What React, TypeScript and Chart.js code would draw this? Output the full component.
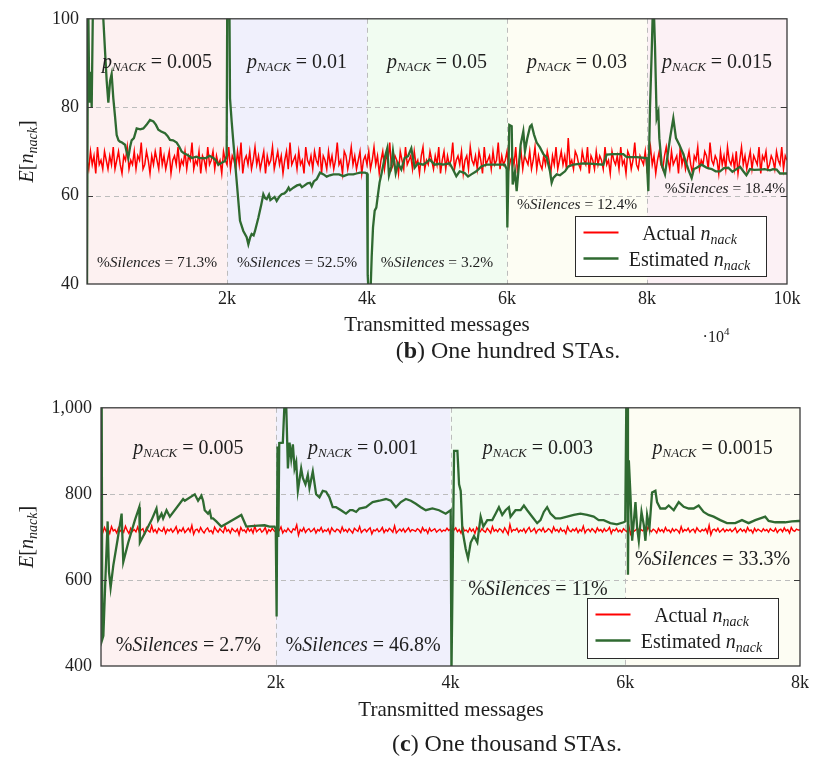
import React, { useEffect, useRef } from 'react';
import { Chart, registerables } from 'chart.js';

Chart.register(...registerables);

const SERIF = '"Liberation Serif", "Times New Roman", serif';
const RED = '#ff0000';
const GREEN = '#2f6a31';
const INK = '#1e1e1e';

// ================= (b) One hundred STAs =================
const hundredActual = [
  68, 66, 70, 67, 69, 65, 71, 67, 68, 66, 70, 68, 66, 69, 67, 71, 66, 68, 70, 67,
  65, 69, 68, 71, 66, 68, 67, 70, 66, 69, 68, 72, 66, 67, 70, 68, 65, 69, 67, 70,
  68, 66, 71, 67, 69, 66, 68, 70, 65, 68, 69, 67, 71, 66, 68, 67, 70, 66, 69, 68,
  72, 66, 68, 67, 70, 65, 69, 68, 66, 71, 67, 68, 70, 66, 69, 67, 68, 65, 70, 68,
  67, 71, 66, 69, 68, 66, 70, 67, 72, 65, 68, 69, 67, 70, 66, 68, 71, 67, 69, 66,
  68, 70, 65, 69, 67, 68, 71, 66, 68, 70, 67, 69, 65, 68, 70, 66, 72, 67, 68, 69,
  66, 70, 67, 68, 65, 71, 68, 67, 69, 66, 70, 68, 67, 71, 65, 69, 68, 66, 70, 67,
  69, 66, 68, 72, 67, 68, 65, 70, 69, 66, 68, 71, 67, 69, 66, 68, 70, 65, 68, 69,
  67, 70, 66, 68, 71, 67, 69, 65, 68, 70, 66, 69, 68, 72, 66, 67, 69, 68, 65, 70,
  68, 66, 71, 67, 68, 69, 66, 70, 67, 68, 65, 69, 71, 66, 68, 67, 70, 68, 66, 69,
  67, 71, 65, 68, 70, 66, 69, 67, 68, 72, 66, 68, 69, 67, 70, 65, 68, 69, 66, 71,
  68, 67, 69, 66, 70, 68, 65, 71, 67, 68, 69, 66, 70, 67, 68, 72, 66, 69, 67, 68,
  70, 66, 68, 69, 67, 71, 65, 68, 70, 66, 69, 68, 67, 70, 66, 68, 71, 66, 69, 67,
  66, 69, 67, 70, 68, 65, 69, 67, 71, 66, 68, 70, 67, 69, 66, 73, 67, 68, 66, 70,
  69, 67, 66, 70, 68, 67, 71, 65, 69, 68, 66, 70, 67, 69, 68, 66, 71, 67, 68, 65,
  70, 68, 67, 69, 66, 71, 67, 68, 65, 70, 69, 66, 68, 72, 67, 66, 69, 68, 67, 70,
  66, 68, 71, 67, 69, 65, 68, 70, 67, 66, 69, 71, 68, 66, 70, 67, 68, 69, 65, 71,
  67, 69, 66, 68, 70, 67, 65, 69, 68, 71, 66, 68, 67, 70, 69, 66, 72, 68, 67, 69,
  68, 65, 70, 67, 69, 66, 71, 68, 67, 69, 66, 70, 65, 68, 71, 67, 69, 66, 68, 70,
  66, 69, 68, 67, 71, 65, 69, 68, 70, 66, 67, 69, 68, 66, 70, 68, 67, 71, 66, 69,
  68,
];
const hundredEstimated: [number, number][] = [
  [0, 38], [15, 108], [33, 81], [50, 88], [67, 80], [90, 110], [150, 115], [233, 100], [260, 92], [281, 86],
  [305, 81], [330, 86], [352, 87.5], [376, 82], [400, 78], [424, 73.7], [450, 72.5], [471, 72.2], [500, 72], [543, 71.5],
  [565, 70], [590, 68.5], [615, 71], [638, 72.5], [670, 73], [710, 75.2], [760, 75], [805, 75.2], [850, 76], [900, 77.1],
  [948, 76.8], [985, 76], [1019, 74.9], [1060, 74.5], [1114, 74.1], [1150, 73.5], [1186, 72.6], [1230, 72.5], [1281, 72], [1320, 71],
  [1352, 70], [1390, 69.5], [1424, 69.3], [1500, 68.5], [1560, 68.8], [1614, 68.5], [1700, 68.5], [1750, 69], [1805, 68.5], [1840, 68],
  [1876, 67], [1930, 67.5], [1971, 67.8], [1995, 69],
  [2005, 110], [2030, 115], [2043, 82], [2067, 76.7], [2090, 72.2], [2138, 63.3], [2186, 54.3], [2233, 52], [2281, 50.6], [2305, 49],
  [2330, 50.5], [2352, 51.3], [2380, 51], [2400, 52], [2448, 55], [2490, 58], [2519, 60.3], [2545, 59.4], [2567, 59.2], [2600, 60.2],
  [2620, 59], [2638, 59.2], [2680, 59.7], [2710, 58.8], [2750, 59.8], [2781, 60.3], [2820, 60.5], [2852, 61], [2880, 61.8], [2900, 61.2],
  [2948, 61.8], [3000, 62.3], [3043, 62.5], [3070, 61.9], [3100, 62.2], [3150, 62.8], [3186, 62.9], [3210, 62.1], [3240, 63.2], [3281, 63.7],
  [3329, 65.2], [3380, 64.8], [3424, 64.3], [3470, 64.6], [3519, 64.8], [3600, 64.8], [3662, 64.4], [3730, 64.8], [3805, 64.8], [3850, 65],
  [3900, 65.2], [3971, 65.2],
  [4000, 65], [4010, 42], [4029, 36], [4050, 38], [4067, 46.1], [4086, 52.8], [4110, 56.6], [4133, 57.3], [4157, 60.3], [4180, 63],
  [4205, 64.8], [4252, 68.5], [4290, 70.7], [4314, 64.6], [4348, 66.6], [4371, 70], [4410, 65.1], [4443, 67.3], [4490, 65.9], [4538, 68.5],
  [4586, 68.9], [4633, 70.7], [4681, 66.3], [4729, 67.3], [4800, 67], [4850, 67.5], [4895, 68.2], [4967, 67], [5030, 67.2], [5086, 67],
  [5181, 67.3], [5229, 65.9], [5276, 64.4], [5324, 65.5], [5395, 65.1], [5443, 64.3], [5490, 64.8], [5562, 65.5], [5633, 66.6], [5705, 67],
  [5800, 67], [5895, 67], [5967, 67], [5995, 66],
  [6005, 52.8], [6033, 76], [6067, 75.7], [6081, 62.5], [6114, 65.4], [6138, 61], [6162, 65.4], [6195, 71.5], [6233, 74.5], [6257, 70],
  [6290, 73], [6329, 75.6], [6352, 76], [6386, 73.8], [6424, 72], [6471, 70.9], [6519, 69.4], [6567, 68.6], [6614, 65.5], [6638, 62.9],
  [6662, 64], [6710, 64.8], [6757, 64.6], [6829, 65.5], [6876, 66.6], [6948, 67], [7090, 67.3], [7233, 67.2], [7376, 67], [7424, 69.3],
  [7519, 69.4], [7662, 69.4], [7710, 68.7], [7852, 68.7], [7995, 68.5],
  [8019, 61], [8043, 80], [8067, 92.4], [8090, 106], [8114, 93.9], [8138, 77.5], [8162, 78.9], [8176, 73], [8210, 67], [8257, 64.8],
  [8290, 68.6], [8329, 73], [8376, 77.5], [8414, 73], [8462, 71.5], [8519, 69.4], [8567, 67], [8600, 65.5], [8638, 64], [8670, 66],
  [8710, 66.3], [8781, 67], [8852, 66.3], [8924, 66], [8980, 65.5], [9043, 65.5], [9100, 66.2], [9162, 66.3], [9220, 65.4], [9281, 66],
  [9330, 66.5], [9376, 65.5], [9420, 64.6], [9471, 66], [9530, 65.8], [9614, 65.9], [9680, 66], [9757, 65.7], [9800, 66], [9852, 65.9],
  [9900, 65], [10000, 65],
];
const hundredBounds = [0, 2000, 4000, 6000, 8000, 10000];
const hundredPNack = ['0.005', '0.01', '0.05', '0.03', '0.015'];
const hundredSilences = ['71.3%', '52.5%', '3.2%', '12.4%', '18.4%'];
const hundredYTicks = [40, 60, 80, 100];
const hundredYTickLabels = ['40', '60', '80', '100'];
const hundredXTicks = [2000, 4000, 6000, 8000, 10000];
const hundredXTickLabels = ['2k', '4k', '6k', '8k', '10k'];

// ================= (c) One thousand STAs =================
const thousandActual = [
  716, 710, 722, 712, 719, 708, 724, 714, 717, 709, 721, 713, 718, 711, 725, 715, 708, 720, 713, 717,
  712, 723, 710, 716, 719, 707, 721, 714, 711, 726, 712, 717, 709, 720, 715, 713, 722, 708, 718, 714,
  719, 711, 716, 724, 709, 717, 713, 721, 710, 715, 720, 712, 727, 706, 716, 718, 711, 722, 714, 709,
  717, 721, 712, 715, 708, 723, 716, 711, 719, 714, 710, 724, 713, 717, 709, 720, 715, 712, 718, 705,
  722, 714, 716, 710, 721, 713, 718, 709, 725, 712, 716, 719, 711, 715, 722, 708, 717, 713, 720, 714,
  711, 718, 715, 723, 709, 716, 712, 720, 714, 710, 719, 716, 728, 704, 717, 713, 721, 710, 716, 719,
  712, 715, 720, 709, 717, 714, 722, 711, 716, 713, 719, 708, 721, 715, 712, 718, 716, 710, 723, 713,
  717, 711, 719, 714, 709, 720, 716, 713, 724, 710, 715, 718, 712, 717, 721, 707, 716, 714, 719, 712,
  715, 722, 710, 717, 713, 720, 716, 711, 726, 709, 714, 718, 713, 719, 711, 716, 721, 712, 717, 715,
  713, 719, 716, 710, 722, 714, 717, 708, 720, 713, 716, 719, 711, 715, 718, 712, 716, 714, 720, 715,
  718, 710, 716, 721, 712, 717, 709, 723, 714, 716, 711, 720, 713, 718, 708, 722, 715, 712, 719, 714,
  711, 720, 715, 709, 724, 713, 717, 712, 719, 716, 710, 721, 714, 706, 729, 712, 717, 715, 720, 711,
  716, 713, 719, 710, 717, 722, 712, 715, 720, 709, 716, 718, 713, 721, 711, 714, 719, 716, 710, 723,
  714, 717, 711, 720, 713, 716, 708, 724, 715, 712, 718, 714, 720, 710, 717, 713, 725, 709, 716, 718,
  712, 719, 715, 710, 721, 714, 717, 711, 719, 713, 716, 722, 708, 717, 714, 720, 712, 716, 711, 719,
  715, 712, 726, 707, 718, 713, 716, 721, 711, 717, 714, 719, 710, 723, 716, 712, 718, 715, 709, 720,
  713, 717, 711, 722, 714, 716, 710, 719, 713, 718, 715, 709, 724, 712, 717, 714, 720, 711, 716, 718,
  710, 721, 715, 712, 717, 714, 719, 709, 727, 705, 716, 718, 713, 720, 711, 715, 719, 712, 717, 714,
  718, 712, 716, 721, 710, 715, 719, 713, 717, 711, 722, 714, 716, 709, 720, 713, 718, 715, 712, 719,
  714, 717, 711, 719, 715, 713, 720, 710, 716, 718, 712, 721, 714, 717, 709, 722, 715, 713, 718, 716,
  716,
];
const thousandEstimated: [number, number][] = [
  [0, 1020], [8, 1010], [15, 462], [27, 470], [50, 600], [76, 736], [91, 620], [110, 582], [141, 634], [190, 694],
  [236, 754], [255, 642], [312, 687], [388, 739], [438, 769], [445, 687], [502, 709], [578, 739], [635, 766], [654, 739],
  [693, 754], [711, 743], [750, 762], [788, 747], [940, 788], [959, 784], [1073, 799], [1111, 784], [1149, 796], [1168, 784],
  [1187, 762], [1225, 754], [1245, 760], [1263, 743], [1282, 743], [1320, 736], [1377, 724], [1453, 733], [1606, 751], [1663, 724],
  [1720, 725], [1796, 726], [1872, 727], [1929, 724], [1986, 724], [2000, 717],
  [2010, 515], [2020, 910], [2030, 700], [2040, 918], [2081, 919], [2100, 1010], [2120, 1005], [2139, 859], [2158, 919], [2177, 882],
  [2196, 915], [2215, 859], [2234, 874], [2253, 807], [2291, 859], [2310, 837], [2340, 822], [2367, 844], [2386, 814], [2424, 852],
  [2462, 799], [2500, 792], [2538, 807], [2576, 805], [2614, 792], [2652, 769], [2690, 769], [2747, 762], [2804, 754], [2850, 762],
  [2881, 762], [2920, 758], [2957, 766], [3033, 769], [3070, 775], [3109, 781], [3185, 784], [3261, 788], [3318, 784], [3375, 769],
  [3432, 781], [3489, 788], [3546, 784], [3603, 777], [3660, 769], [3717, 762], [3793, 766], [3869, 762], [3945, 754], [4002, 762],
  [4011, 380], [4041, 900], [4079, 900], [4098, 822], [4117, 807], [4136, 717], [4155, 694], [4174, 672], [4201, 650], [4231, 687],
  [4269, 702], [4307, 687], [4345, 747], [4376, 724], [4421, 739], [4478, 739], [4516, 754], [4554, 769], [4592, 751], [4630, 762],
  [4668, 769], [4687, 747], [4744, 762], [4802, 762], [4840, 773], [4878, 762], [4935, 747], [4992, 732], [5030, 739], [5068, 758],
  [5106, 769], [5144, 754], [5201, 743], [5258, 743], [5335, 747], [5411, 751], [5487, 754], [5563, 751], [5639, 747], [5696, 739],
  [5753, 739], [5829, 732], [5905, 729], [5982, 734], [6000, 736],
  [6012, 1010], [6025, 1005], [6031, 612], [6041, 878], [6060, 796], [6079, 691], [6117, 781], [6136, 721], [6155, 691], [6186, 758],
  [6212, 728], [6231, 691], [6250, 751], [6277, 721], [6307, 803], [6345, 807], [6364, 781], [6402, 766], [6459, 766], [6497, 773],
  [6555, 762], [6612, 781], [6669, 770], [6726, 766], [6783, 766], [6840, 773], [6897, 758], [6954, 751], [7011, 747], [7088, 739],
  [7164, 732], [7259, 732], [7336, 739], [7412, 732], [7488, 739], [7602, 747], [7641, 737], [7717, 734], [7831, 734], [7907, 736],
  [7983, 737], [8000, 737],
];
const thousandBounds = [0, 2000, 4000, 6000, 8000];
const thousandPNack = ['0.005', '0.001', '0.003', '0.0015'];
const thousandSilences = ['2.7%', '46.8%', '11%', '33.3%'];
const thousandYTicks = [400, 600, 800, 1000];
const thousandYTickLabels = ['400', '600', '800', '1,000'];
const thousandXTicks = [2000, 4000, 6000, 8000];
const thousandXTickLabels = ['2k', '4k', '6k', '8k'];

// ================= layout / style (not data) =================
const hundredLayout = {
  canvasTop: 0, height: 388,
  padding: { left: 0, top: 16, right: 28, bottom: 0 },
  yAxisWidth: 87, xAxisHeight: 104, xTickPad: 4, yTickPad: 8,
  regionColors: ['#fdf1f1', '#f0f0fc', '#f1fcf1', '#fdfdf3', '#fcf1f5'],
  pLabelY: 88.8,
  silenceAt: [[1000, 43.9], [3000, 43.9], [5000, 43.9], [7000, 57.0], [9114, 60.7]],
  silenceSize: 15.5,
  redWidth: 1.5,
  legendRight: 21, legendBottom: 8,
  xTitleX: 437, xTitleY: 331,
  captionX: 508, captionY: 358, captionLetter: 'b', captionRest: ') One hundred STAs.',
  multiplier: true,
};
const thousandLayout = {
  canvasTop: 388, height: 388,
  padding: { left: 0, top: 11, right: 13, bottom: 0 },
  yAxisWidth: 101, xAxisHeight: 110, xTickPad: 6, yTickPad: 9,
  regionColors: ['#fdf1f1', '#f0f0fc', '#f1fcf1', '#fdfdf3'],
  pLabelY: 892,
  silenceAt: [[1000, 436], [3000, 436], [5000, 566], [7000, 634]],
  silenceSize: 20,
  redWidth: 1.4,
  legendRight: 22, legendBottom: 8,
  xTitleX: 451, xTitleY: 328,
  captionX: 507, captionY: 363, captionLetter: 'c', captionRest: ') One thousand STAs.',
  multiplier: false,
};

type Part = { t: string; f: string; dy?: number };
const fnt = (size: number, style = '') => `${style ? style + ' ' : ''}${size}px ${SERIF}`;

function drawRich(ctx: CanvasRenderingContext2D, parts: Part[], x: number, y: number, align = 'center') {
  let w = 0;
  for (const p of parts) { ctx.font = p.f; w += ctx.measureText(p.t).width; }
  let cx = align === 'center' ? x - w / 2 : align === 'right' ? x - w : x;
  ctx.textAlign = 'left';
  ctx.textBaseline = 'alphabetic';
  for (const p of parts) {
    ctx.font = p.f;
    ctx.fillText(p.t, cx, y + (p.dy || 0));
    cx += ctx.measureText(p.t).width;
  }
}

const pNackParts = (v: string): Part[] => [
  { t: 'p', f: fnt(20, 'italic') },
  { t: 'NACK', f: fnt(13, 'italic'), dy: 3 },
  { t: ' = ' + v, f: fnt(20) },
];
const silenceParts = (v: string, s: number): Part[] => [
  { t: '%', f: fnt(s) },
  { t: 'Silences', f: fnt(s, 'italic') },
  { t: ' = ' + v, f: fnt(s) },
];
const nNackParts = (prefix: string): Part[] => [
  { t: prefix, f: fnt(20) },
  { t: 'n', f: fnt(20, 'italic') },
  { t: 'nack', f: fnt(14, 'italic'), dy: 4 },
];

function makeConfig(d: any, L: any) {
  const plugin = {
    id: 'paperDecor',
    beforeDatasetsDraw(chart: any) {
      const { ctx, chartArea: a, scales } = chart;
      const xs = scales.x, ys = scales.y;
      ctx.save();
      for (let i = 0; i < d.bounds.length - 1; i++) {
        const x0 = xs.getPixelForValue(d.bounds[i]);
        const x1 = xs.getPixelForValue(d.bounds[i + 1]);
        ctx.fillStyle = L.regionColors[i];
        ctx.fillRect(x0, a.top, x1 - x0, a.bottom - a.top);
      }
      ctx.strokeStyle = '#bcbcbc';
      ctx.lineWidth = 1;
      ctx.setLineDash([5, 4]);
      for (const v of d.yTicks) {
        if (v <= ys.min || v >= ys.max) continue;
        const yy = Math.round(ys.getPixelForValue(v)) + 0.5;
        ctx.beginPath(); ctx.moveTo(a.left, yy); ctx.lineTo(a.right, yy); ctx.stroke();
      }
      for (const b of d.bounds) {
        if (b <= xs.min || b >= xs.max) continue;
        const xx = Math.round(xs.getPixelForValue(b)) + 0.5;
        ctx.beginPath(); ctx.moveTo(xx, a.top); ctx.lineTo(xx, a.bottom); ctx.stroke();
      }
      ctx.restore();
    },
    afterDatasetsDraw(chart: any) {
      const { ctx, chartArea: a, scales } = chart;
      const xs = scales.x, ys = scales.y;
      ctx.save();
      // frame
      ctx.strokeStyle = '#3a3a3a';
      ctx.lineWidth = 1.3;
      ctx.strokeRect(a.left, a.top, a.right - a.left, a.bottom - a.top);
      ctx.lineWidth = 1;
      for (const v of d.yTicks) {
        if (v <= ys.min || v >= ys.max) continue;
        const yy = Math.round(ys.getPixelForValue(v)) + 0.5;
        ctx.beginPath(); ctx.moveTo(a.left, yy); ctx.lineTo(a.left + 6, yy); ctx.stroke();
        ctx.beginPath(); ctx.moveTo(a.right - 6, yy); ctx.lineTo(a.right, yy); ctx.stroke();
      }
      ctx.fillStyle = INK;
      // region labels
      for (let i = 0; i < d.pNack.length; i++) {
        const cx = xs.getPixelForValue((d.bounds[i] + d.bounds[i + 1]) / 2);
        drawRich(ctx, pNackParts(d.pNack[i]), cx, ys.getPixelForValue(L.pLabelY));
      }
      for (let i = 0; i < d.silences.length; i++) {
        const [sx, sy] = L.silenceAt[i];
        drawRich(ctx, silenceParts(d.silences[i], L.silenceSize), xs.getPixelForValue(sx), ys.getPixelForValue(sy));
      }
      // legend
      const bw = 191, bh = 60;
      const bx = Math.round(a.right - L.legendRight - bw) + 0.5;
      const by = Math.round(a.bottom - L.legendBottom - bh) + 0.5;
      ctx.fillStyle = '#ffffff';
      ctx.fillRect(bx, by, bw, bh);
      ctx.strokeStyle = '#2a2a2a';
      ctx.lineWidth = 1;
      ctx.strokeRect(bx, by, bw, bh);
      ctx.lineWidth = 2;
      ctx.strokeStyle = RED;
      ctx.beginPath(); ctx.moveTo(bx + 8, by + 16); ctx.lineTo(bx + 43, by + 16); ctx.stroke();
      ctx.lineWidth = 2.4;
      ctx.strokeStyle = GREEN;
      ctx.beginPath(); ctx.moveTo(bx + 8, by + 42); ctx.lineTo(bx + 43, by + 42); ctx.stroke();
      ctx.fillStyle = INK;
      drawRich(ctx, nNackParts('Actual '), bx + 114, by + 23);
      drawRich(ctx, nNackParts('Estimated '), bx + 114, by + 49);
      // y title
      ctx.save();
      ctx.translate(33, (a.top + a.bottom) / 2);
      ctx.rotate(-Math.PI / 2);
      drawRich(ctx, [
        { t: 'E', f: fnt(20, 'italic') },
        { t: '[', f: fnt(20) },
        { t: 'n', f: fnt(20, 'italic') },
        { t: 'nack', f: fnt(14, 'italic'), dy: 4 },
        { t: ']', f: fnt(20) },
      ], 0, 0);
      ctx.restore();
      // x title
      drawRich(ctx, [{ t: 'Transmitted messages', f: fnt(21) }], L.xTitleX, L.xTitleY);
      if (L.multiplier) {
        drawRich(ctx, [{ t: '·10', f: fnt(16) }, { t: '4', f: fnt(11), dy: -7 }], 716, 342);
      }
      // caption
      drawRich(ctx, [
        { t: '(', f: fnt(24) },
        { t: L.captionLetter, f: fnt(24, 'bold') },
        { t: L.captionRest, f: fnt(24) },
      ], L.captionX, L.captionY);
      ctx.restore();
    },
  };

  const step = d.xMax / (d.actual.length - 1);
  return {
    type: 'line',
    data: {
      datasets: [
        {
          label: 'Estimated',
          data: d.estimated.map((p: number[]) => ({ x: p[0], y: p[1] })),
          borderColor: GREEN, borderWidth: 2.3, pointRadius: 0, tension: 0, fill: false,
        },
        {
          label: 'Actual',
          data: d.actual.map((v: number, i: number) => ({ x: i * step, y: v })),
          borderColor: RED, borderWidth: L.redWidth, pointRadius: 0, tension: 0, fill: false,
        },
      ],
    },
    options: {
      animation: false,
      responsive: false,
      devicePixelRatio: 1,
      events: [],
      layout: { padding: L.padding },
      plugins: { legend: { display: false }, tooltip: { enabled: false }, title: { display: false } },
      scales: {
        x: {
          type: 'linear', min: d.xMin, max: d.xMax,
          grid: { display: false, drawTicks: false },
          border: { display: false },
          afterBuildTicks: (s: any) => { s.ticks = d.xTicks.map((v: number) => ({ value: v })); },
          afterFit: (s: any) => { s.height = L.xAxisHeight; },
          ticks: {
            autoSkip: false, maxRotation: 0, minRotation: 0, padding: L.xTickPad, color: INK,
            font: { family: SERIF, size: 18 },
            callback: (v: number) => { const i = d.xTicks.indexOf(v); return i >= 0 ? d.xTickLabels[i] : ''; },
          },
        },
        y: {
          type: 'linear', min: d.yMin, max: d.yMax,
          grid: { display: false, drawTicks: false },
          border: { display: false },
          afterBuildTicks: (s: any) => { s.ticks = d.yTicks.map((v: number) => ({ value: v })); },
          afterFit: (s: any) => { s.width = L.yAxisWidth; },
          ticks: {
            autoSkip: false, padding: L.yTickPad, color: INK,
            font: { family: SERIF, size: 18 },
            callback: (v: number) => { const i = d.yTicks.indexOf(v); return i >= 0 ? d.yTickLabels[i] : ''; },
          },
        },
      },
    },
    plugins: [plugin],
  };
}

const hundredData = {
  actual: hundredActual, estimated: hundredEstimated, bounds: hundredBounds,
  pNack: hundredPNack, silences: hundredSilences,
  yTicks: hundredYTicks, yTickLabels: hundredYTickLabels, xTicks: hundredXTicks, xTickLabels: hundredXTickLabels,
  xMin: 0, xMax: 10000, yMin: 40, yMax: 100,
};
const thousandData = {
  actual: thousandActual, estimated: thousandEstimated, bounds: thousandBounds,
  pNack: thousandPNack, silences: thousandSilences,
  yTicks: thousandYTicks, yTickLabels: thousandYTickLabels, xTicks: thousandXTicks, xTickLabels: thousandXTickLabels,
  xMin: 0, xMax: 8000, yMin: 400, yMax: 1000,
};

function Panel({ data, layout }: { data: any; layout: any }) {
  const ref = useRef<HTMLCanvasElement | null>(null);
  useEffect(() => {
    if (!ref.current) return;
    const chart = new Chart(ref.current, makeConfig(data, layout) as any);
    return () => chart.destroy();
  }, [data, layout]);
  return (
    <canvas
      ref={ref}
      width={815}
      height={layout.height}
      style={{ position: 'absolute', left: 0, top: layout.canvasTop, width: 815, height: layout.height, display: 'block' }}
    />
  );
}

export default function App() {
  return (
    <div style={{ position: 'absolute', left: 0, top: 0, width: 815, height: 776, background: '#ffffff', overflow: 'hidden' }}>
      <Panel data={hundredData} layout={hundredLayout} />
      <Panel data={thousandData} layout={thousandLayout} />
    </div>
  );
}
